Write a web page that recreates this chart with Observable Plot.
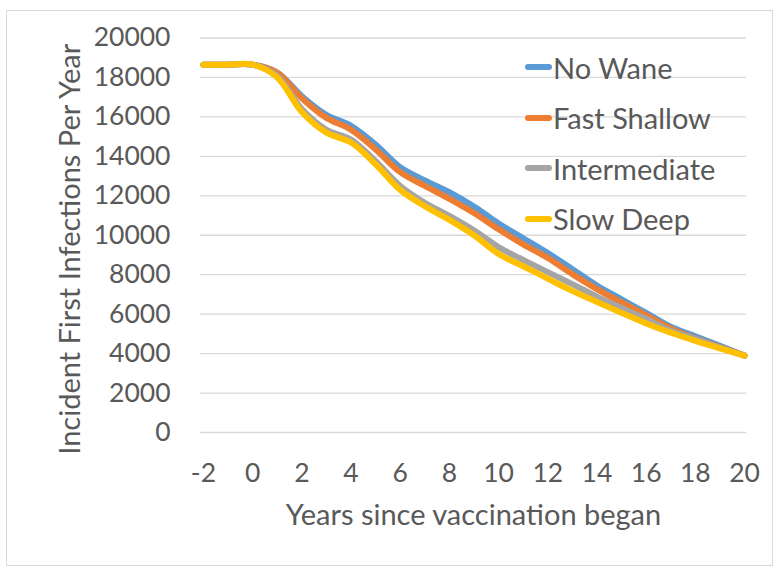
<!DOCTYPE html>
<html>
<head>
<meta charset="utf-8">
<script src="https://cdn.jsdelivr.net/npm/d3@7"></script>
<script src="https://cdn.jsdelivr.net/npm/@observablehq/plot@0.6"></script>
<style>
  html, body { margin: 0; padding: 0; background: #fff; }
  #wrap { position: relative; width: 774px; height: 567px; font-family: Lato, sans-serif; }
  #border { position: absolute; left: 6px; top: 10px; right: 1px; bottom: 1px; border: 1px solid #d9d9d9; box-sizing: border-box; }
  #chart { position: absolute; left: 0; top: 0; }
  #legend { position: absolute; left: 525px; top: 42px; color: #595959; font-size: 29px; }
  .item { display: flex; align-items: center; height: 50.5px; white-space: nowrap; }
  .sw { width: 27px; height: 6px; border-radius: 3px; margin-right: 1px; }
</style>
</head>
<body>
<div id="wrap">
  <div id="border"></div>
  <div id="chart"></div>
  <div id="legend"></div>
</div>
<script>
const years = [-2,-1,0,1,2,3,4,5,6,7,8,9,10,11,12,13,14,15,16,17,18,19,20];
const seriesNames = ["No Wane", "Fast Shallow", "Intermediate", "Slow Deep"];
const seriesColors = ["#5B9BD5", "#ED7D31", "#A5A5A5", "#FFC000"];
const noWane       = [18650,18650,18650,18250,17050,16100,15550,14600,13450,12780,12180,11450,10600,9850,9100,8280,7450,6750,6060,5360,4880,4390,3900];
const fastShallow  = [18650,18650,18650,18230,16950,15950,15350,14350,13200,12500,11850,11130,10300,9540,8850,8030,7270,6590,5950,5280,4770,4330,3900];
const intermediate = [18650,18650,18650,18080,16400,15350,14850,13750,12500,11650,10980,10250,9400,8750,8130,7520,6890,6310,5750,5160,4750,4300,3900];
const slowDeep     = [18650,18650,18650,18000,16250,15200,14700,13600,12300,11470,10780,10000,9050,8430,7800,7180,6620,6060,5530,5060,4650,4270,3900];
const yTicks = [0,2000,4000,6000,8000,10000,12000,14000,16000,18000,20000];
const xTicks = [-2,0,2,4,6,8,10,12,14,16,18,20];

const seriesValues = [noWane, fastShallow, intermediate, slowDeep];
const data = seriesNames.flatMap((name, i) =>
  years.map((yr, j) => ({series: name, year: yr, value: seriesValues[i][j]})));

const textColor = "#595959";

const chart = Plot.plot({
  width: 774,
  height: 567,
  marginLeft: 200,
  marginRight: 28,
  marginTop: 37.5,
  marginBottom: 135,
  style: {fontFamily: "Lato, sans-serif", background: "transparent", color: textColor},
  x: {domain: [-2.12, 20.08]},
  y: {domain: [0, 20000]},
  color: {domain: seriesNames, range: seriesColors},
  marks: [
    Plot.gridY(yTicks, {stroke: "#d9d9d9", strokeOpacity: 1, strokeWidth: 1.3}),
    Plot.axisY(yTicks, {tickSize: 0, tickPadding: 30, fontSize: 26.5, fill: textColor, tickFormat: d => String(d), label: null}),
    Plot.axisX(xTicks, {tickSize: 0, tickPadding: 31, fontSize: 26.5, fill: textColor, tickFormat: d => String(d), label: null}),
    Plot.line(data, {x: "year", y: "value", z: "series", stroke: "series", strokeWidth: 6, curve: "catmull-rom", strokeLinecap: "round", strokeLinejoin: "round"}),
    Plot.text(["Years since vaccination began"], {frameAnchor: "bottom", text: d => d, dy: 83, lineAnchor: "middle", textAnchor: "middle", fontSize: 29, fill: textColor}),
    Plot.text(["Incident First Infections Per Year"], {frameAnchor: "left", text: d => d, rotate: -90, dx: -130, dy: 14, lineAnchor: "middle", textAnchor: "middle", fontSize: 29, fill: textColor})
  ]
});
document.getElementById("chart").appendChild(chart);

const legend = document.getElementById("legend");
seriesNames.forEach((name, i) => {
  const item = document.createElement("div");
  item.className = "item";
  const sw = document.createElement("span");
  sw.className = "sw";
  sw.style.background = seriesColors[i];
  const t = document.createElement("span");
  t.textContent = name;
  item.appendChild(sw);
  item.appendChild(t);
  legend.appendChild(item);
});
</script>
</body>
</html>
